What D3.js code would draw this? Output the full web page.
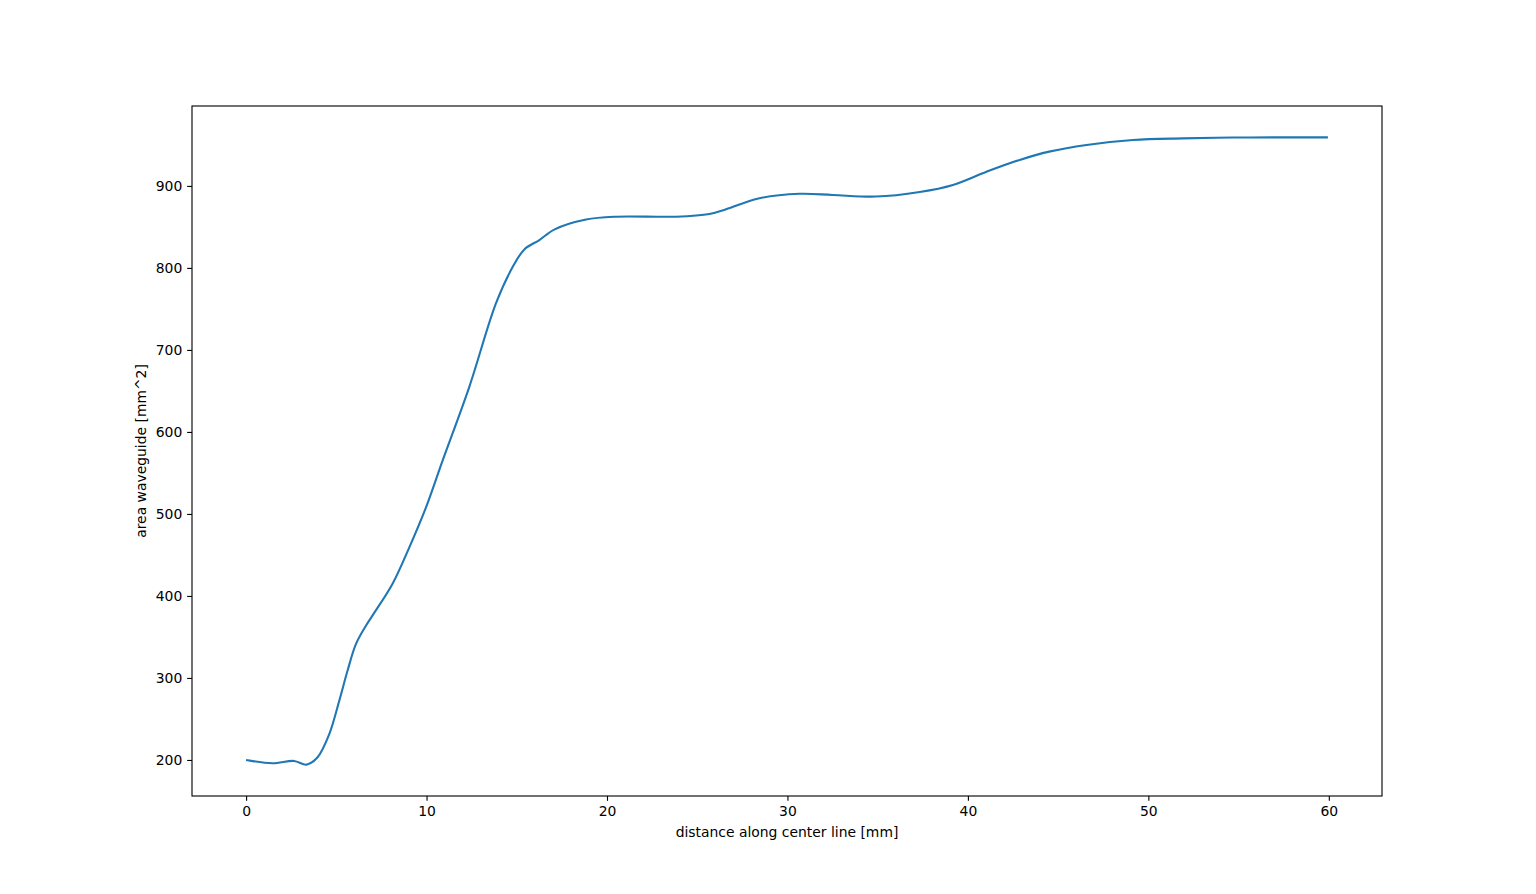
<!DOCTYPE html>
<html>
<head>
<meta charset="utf-8">
<script src="https://cdn.jsdelivr.net/npm/d3@7"></script>
<style>
  html, body { margin: 0; padding: 0; background: #fff; }
  svg { display: block; }
  text { font-family: "DejaVu Sans", sans-serif; }
</style>
</head>
<body>
<svg id="chart" width="1536" height="894"></svg>
<script>
// distance along center line [mm]
const distance = [0, 1.46, 2.66, 3.35, 3.95, 4.6, 5.16, 5.62, 6.08, 6.64, 7.0, 8.11, 9.04, 9.97, 10.89, 12.37, 13.85, 14.77, 15.42, 16.25, 17.1, 18.84, 20.5, 23.83, 25.68, 26.6, 28.45, 30.67, 32.5, 34.9, 37.33, 39.17, 41.0, 42.87, 44.5, 46.57, 49.15, 51.9, 54.7, 57.5, 59.95];
// area waveguide [mm^2]
const area = [200, 196, 198.8, 194.3, 203, 231, 272, 308.7, 341, 363.7, 376, 414.6, 459, 508, 565, 655, 757, 801, 822.6, 834, 847, 859, 862.5, 862.5, 865.8, 871.5, 885, 890.4, 889, 887, 892.6, 901.2, 917, 931.7, 941.8, 950, 956, 958, 959, 959.2, 959.2];
const xTicks = [0, 10, 20, 30, 40, 50, 60];
const yTicks = [200, 300, 400, 500, 600, 700, 800, 900];
const xLabel = "distance along center line [mm]";
const yLabel = "area waveguide [mm^2]";

const svg = d3.select("#chart");
const mLeft = 192, mRight = 1382, mTop = 106, mBottom = 796;
const data = distance.map((d, i) => ({x: d, y: area[i]}));

function padded(ext) { const r = ext[1] - ext[0]; return [ext[0] - 0.05 * r, ext[1] + 0.05 * r]; }
const x = d3.scaleLinear().domain(padded(d3.extent(distance))).range([mLeft, mRight]);
const y = d3.scaleLinear().domain(padded(d3.extent(area))).range([mBottom, mTop]);

const fs = 13.9, tickLen = 4.86, tickPad = 4.86;

svg.append("clipPath").attr("id", "clip").append("rect")
  .attr("x", mLeft).attr("y", mTop).attr("width", mRight - mLeft).attr("height", mBottom - mTop);

svg.append("path").datum(data)
  .attr("clip-path", "url(#clip)")
  .attr("fill", "none").attr("stroke", "#1f77b4").attr("stroke-width", 2.08)
  .attr("stroke-linejoin", "round").attr("stroke-linecap", "butt")
  .attr("d", d3.line().x(d => x(d.x)).y(d => y(d.y)).curve(d3.curveCatmullRom.alpha(0.5)));

const xAxis = svg.append("g").attr("transform", `translate(0,${mBottom})`)
  .call(d3.axisBottom(x).tickValues(xTicks).tickFormat(d3.format("d")).tickSize(tickLen).tickPadding(tickPad).tickSizeOuter(0));
const yAxis = svg.append("g").attr("transform", `translate(${mLeft},0)`)
  .call(d3.axisLeft(y).tickValues(yTicks).tickFormat(d3.format("d")).tickSize(tickLen).tickPadding(tickPad).tickSizeOuter(0));
[xAxis, yAxis].forEach(g => {
  g.select(".domain").remove();
  g.selectAll(".tick line").attr("stroke", "#000").attr("stroke-width", 1.11);
  g.selectAll(".tick text").attr("fill", "#000").style("font-size", fs + "px").style("font-family", "DejaVu Sans, sans-serif");
});

svg.append("rect").attr("x", mLeft).attr("y", mTop).attr("width", mRight - mLeft).attr("height", mBottom - mTop)
  .attr("fill", "none").attr("stroke", "#000").attr("stroke-width", 1.11);

svg.append("text").attr("x", (mLeft + mRight) / 2).attr("y", 837)
  .attr("text-anchor", "middle").style("font-size", fs + "px").text(xLabel);
svg.append("text").attr("transform", `translate(146,${(mTop + mBottom) / 2}) rotate(-90)`)
  .attr("text-anchor", "middle").style("font-size", fs + "px").text(yLabel);
</script>
</body>
</html>
